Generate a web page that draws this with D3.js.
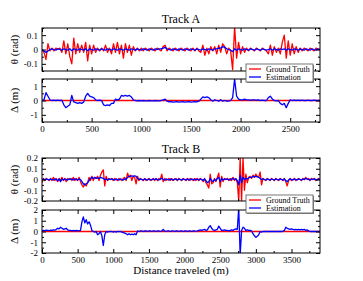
<!DOCTYPE html>
<html>
<head>
<meta charset="utf-8">
<script src="https://cdn.jsdelivr.net/npm/d3@7"></script>
<style>
  body { margin: 0; background: #fff; }
  svg { display: block; }
</style>
</head>
<body>
<script>
// sample spacing of the series below (m)
var step = 20;

// Track A, heading error (rad), one value every 20 m from 0 to 2800
var thetaTruthA = [
  0, -0.02, -0.07, 0.04, -0.01, 0.01, -0.01, 0.01, 0, 0.01,
  -0.02, 0.06, -0.03, 0.04, -0.05, -0.1, 0.08, -0.03, 0.04, -0.02,
  0.03, -0.02, 0.05, -0.08, 0.03, -0.03, 0.03, -0.02, 0.01, -0.01,
  0.01, -0.01, 0.03, -0.02, 0.01, -0.03, 0.04, -0.02, 0.05, -0.03,
  0.03, -0.06, 0.04, -0.02, 0.03, -0.04, 0.02, -0.01, 0.01, -0.01,
  0.01, -0.01, 0.01, 0, -0.01, 0.01, 0, -0.01, 0.01, 0,
  -0.01, 0.02, 0.03, -0.01, 0.01, 0, -0.01, 0.01, 0, -0.01,
  0.01, 0, -0.01, 0.01, 0, -0.01, 0.01, -0.01, 0.01, -0.01,
  -0.02, 0.03, -0.04, 0.01, -0.03, 0.02, -0.01, 0.02, -0.03, 0.03,
  -0.02, 0.04, 0.02, -0.03, 0.01, -0.01, -0.14, 0.16, -0.06, 0.05,
  -0.03, 0.02, -0.02, 0.01, -0.01, 0.01, 0, -0.01, 0.01, 0,
  -0.01, 0.01, 0, -0.01, -0.03, 0.03, -0.04, 0.02, -0.02, 0.01,
  -0.03, 0.05, 0.1, -0.06, 0.06, -0.04, 0.04, -0.03, 0.02, -0.02,
  0.01, -0.01, 0.01, 0, -0.01, 0.01, 0, -0.01, 0.01, 0,
  0
];
var thetaEstA = [
  0, -0.01, -0.02, -0.01, 0, 0.005, 0, -0.005, 0.005, 0,
  -0.005, 0.005, 0, -0.005, 0.005, -0.01, 0.005, 0, -0.005, 0.005,
  0, -0.005, 0.005, -0.01, 0.005, 0, -0.005, 0.005, 0, -0.005,
  0.005, 0, -0.005, 0.005, 0, -0.005, 0.005, 0, -0.005, 0.005,
  0, -0.005, 0.005, 0, -0.005, 0.005, 0, -0.005, 0.005, 0,
  -0.005, 0.005, 0, -0.005, 0.005, 0, -0.005, 0.005, 0, 0.005,
  0.005, 0.01, 0.015, 0.005, 0, -0.005, 0.005, 0, -0.005, 0.005,
  0, -0.005, 0.005, 0, -0.005, 0.005, 0, -0.005, 0.005, 0,
  -0.005, 0.005, 0, -0.005, 0.005, 0, -0.005, 0.005, 0.005, 0.01,
  0.01, 0.02, 0.015, 0.005, 0, -0.005, -0.015, 0.005, -0.005, 0.005,
  0, -0.005, 0.005, 0, -0.005, 0.005, 0, -0.005, 0.005, 0,
  -0.005, 0.005, 0, -0.005, 0, 0.005, -0.005, 0.005, 0, -0.005,
  0.005, 0, 0.005, -0.005, 0.005, 0, -0.005, 0.005, 0, -0.005,
  0.005, 0, -0.005, 0.005, 0, -0.005, 0.005, 0, -0.005, 0.005,
  0
];
// Track A, lateral offset (m)
var deltaTruthA = [0, 0]; // spacing 2800 m, flat
var deltaEstA = [
  0, 0.05, 0.55, 0.3, 0.05, 0, 0.02, 0, 0.02, 0,
  0.02, -0.3, -0.5, -0.4, -0.3, 0.35, -0.1, -0.15, -0.2, -0.15,
  -0.2, -0.1, 0.3, 0.5, 0.3, 0.25, 0.2, 0.05, 0, 0.02,
  0, -0.3, -0.35, -0.3, -0.35, -0.2, -0.2, 0.1, 0.05, 0.1,
  0.35, 0.3, 0.35, 0.3, 0.35, 0.25, 0.05, 0, -0.02, 0,
  -0.03, 0, -0.02, -0.03, 0, -0.02, -0.03, 0, -0.02, -0.03,
  0, 0.05, 0.1, -0.05, -0.1, -0.08, -0.12, -0.1, -0.08, -0.12,
  -0.1, -0.08, -0.12, -0.1, -0.08, -0.12, -0.1, -0.08, -0.1, -0.05,
  0.1, 0.25, 0.2, 0.25, 0.2, 0.05, -0.05, 0.05, 0, -0.05,
  0.05, -0.05, 0, -0.05, -0.05, 0, 0.2, 1.5, 0.3, 0.1,
  0.05, 0.05, 0.1, 0.05, 0.05, 0.02, 0.05, 0.05, 0.02, 0.05,
  0, 0.02, 0, 0, 0.2, 0.3, 0.1, 0, -0.02, 0,
  -0.2, -0.3, -0.2, -0.5, -0.2, 0.05, 0, 0.02, 0, 0.02,
  0, 0.02, 0, 0, 0.02, 0, 0, 0.02, 0, 0,
  0
];

// Track B, one value every 20 m from 0 to 3900
var thetaTruthB = [
  -0.03, 0.01, -0.01, 0.01, 0, -0.01, 0.01, -0.01, 0.02, -0.01,
  0.01, -0.02, 0.01, -0.01, 0.02, -0.01, 0.01, -0.02, 0.01, 0,
  0.01, -0.01, 0.02, -0.01, 0.01, -0.01, 0.02, -0.02, -0.05, -0.07,
  -0.04, -0.06, -0.03, 0.02, -0.01, 0.03, -0.01, 0.02, 0.01, 0.03,
  -0.01, 0.04, 0.07, 0.09, -0.06, 0.03, -0.01, 0.01, 0, 0.01,
  -0.01, 0.01, 0, -0.01, 0.01, 0, -0.01, 0.01, 0.02, -0.01,
  0.06, 0.02, 0.04, -0.01, 0.03, 0.02, -0.04, 0.03, -0.01, 0.01,
  0, -0.01, 0.01, -0.01, 0, 0.01, -0.01, 0, 0.01, -0.01,
  0.01, -0.01, 0.01, 0, 0.05, -0.02, 0.01, -0.01, 0, 0.01,
  -0.01, 0.01, -0.01, 0, 0.01, -0.01, 0.01, 0, -0.01, 0.01,
  0, -0.01, 0.01, -0.01, 0.01, 0, -0.01, 0.01, -0.01, 0.01,
  -0.01, 0.01, 0, -0.02, 0.01, -0.03, -0.05, -0.08, 0.05, -0.04,
  -0.03, 0.01, -0.02, 0.02, 0.06, -0.07, 0.03, -0.02, 0.01, 0,
  0.01, -0.01, 0.01, -0.01, 0.02, -0.01, 0.01, -0.03, -0.2, 0.2,
  -0.2, 0.2, -0.1, 0.05, -0.03, 0.02, 0.03, 0.01, 0.04, 0.02,
  0.05, 0.03, 0.02, 0.07, -0.05, 0.01, 0, -0.01, 0.01, 0,
  -0.01, 0.01, 0, -0.01, 0.01, 0, -0.01, 0.01, 0, -0.01,
  0.01, -0.02, -0.06, -0.01, 0.01, -0.01, 0, 0.01, -0.01, 0,
  0.01, 0, -0.01, 0.01, 0, 0.02, 0, 0.01, -0.01, 0.01,
  0, 0.01, -0.01, 0, 0.01, 0
];
var thetaEstB = [
  0, 0.005, -0.005, 0.005, 0, -0.005, 0.005, 0, -0.005, 0.005,
  0, -0.01, 0.005, -0.02, 0.005, -0.005, 0.005, 0, -0.005, 0.005,
  0, 0.005, -0.005, 0.005, 0, -0.005, 0.005, 0, -0.02, -0.04,
  -0.05, -0.04, -0.03, -0.01, 0.01, 0.02, 0.01, 0.02, 0.01, 0.015,
  0.01, 0.02, 0.015, 0.01, 0, 0.005, -0.005, 0.005, 0, 0.005,
  0, -0.005, 0.005, 0, -0.005, 0.005, 0, -0.005, 0.005, 0,
  0.02, 0.03, 0.03, 0.035, 0.03, 0.035, 0.03, 0.01, 0, 0.005,
  0, -0.005, 0.005, 0, -0.005, 0.005, 0, -0.005, 0.005, 0,
  0.005, 0, -0.005, 0.005, 0.01, 0, -0.005, 0.005, 0, -0.005,
  0.005, 0, -0.005, 0.005, 0, -0.005, 0.005, 0, -0.005, 0.005,
  0, -0.005, 0.005, 0, -0.005, 0.005, 0, -0.005, 0.005, 0,
  -0.005, 0.005, 0, -0.01, 0.005, -0.01, -0.03, -0.02, 0.01, -0.01,
  -0.02, 0, -0.01, 0.01, 0.02, -0.02, 0.01, -0.005, 0.005, 0,
  0.005, 0, -0.005, 0.005, 0.01, 0, 0.005, -0.01, -0.05, 0.04,
  -0.03, 0.02, 0, 0.01, 0.005, 0.015, 0.02, 0.02, 0.03, 0.025,
  0.03, 0.025, 0.02, 0.01, 0, 0.005, 0, -0.005, 0.005, 0,
  -0.005, 0.005, 0, -0.005, 0.005, 0, -0.005, 0.005, 0, -0.005,
  0.005, -0.01, -0.02, -0.005, 0.005, 0, -0.005, 0.005, 0, -0.005,
  0.005, 0, -0.005, 0.005, 0, 0.01, 0.005, 0, -0.005, 0.005,
  0, 0.005, 0, -0.005, 0.005, 0
];
var deltaTruthB = [0, 0]; // spacing 3900 m, flat
var deltaEstB = [
  0.05, 0.1, 0.08, 0.12, 0.1, 0.08, 0.12, 0.1, 0.15, 0.12,
  0.2, 0.3, 0.25, 0.4, 0.3, 0.2, 0.25, 0.3, 0.15, 0.1,
  0.1, 0.05, 0.1, 0.05, 0.1, 0.08, 0.05, 0.1, 0.9, 1.35,
  0.8, 1.1, 0.7, 0.9, 0.6, 0.1, 0, -0.05, 0, -0.3,
  -0.2, 0, -0.4, -1.3, -0.3, 0, -0.05, 0, -0.02, 0,
  -0.05, 0, -0.05, 0, -0.02, 0, -0.05, -0.1, -0.15, -0.2,
  -0.3, -0.2, -0.3, -0.25, -0.3, -0.2, -0.3, 0.05, 0, 0.05,
  0.05, 0, 0.05, 0.05, 0, 0.05, 0.05, 0, 0.05, 0.05,
  0, 0.05, 0.05, 0, 0.05, 0.2, 0.05, 0, 0.05, 0.05,
  0, 0.05, 0.05, 0, 0.05, 0.05, 0, 0.05, 0.05, 0,
  0.05, 0.05, 0, 0.05, 0.05, 0, 0.05, 0.05, 0, 0.05,
  0.1, 0.15, 0.1, 0.15, 0.2, 0.1, 0.15, 0.4, 0.55, 0.3,
  0.15, 0.1, 0.15, 0.2, 0.5, 0.3, 0.1, 0.1, 0.15, 0.1,
  0.1, 0.05, 0.1, 0.15, 0.1, 0.2, 0.25, 0.2, 2.2, -2.2,
  0.1, 0.4, 0.3, 0.1, 0.15, 0.1, 0.1, 0.05, -0.2, -0.4,
  -0.55, -0.45, -0.3, 0, -0.05, 0, 0, 0.02, 0, 0,
  0, 0.02, 0, 0, 0.02, 0, 0, 0.02, 0, 0.02,
  0.1, 0.4, 0.3, 0.25, 0.2, 0.25, 0.2, 0.15, 0.2, 0.15,
  0.2, 0.15, 0.2, 0.15, 0.2, 0.1, 0.15, 0.05, 0, 0,
  0, 0.02, 0, 0, 0.02, 0
];

// tick labels
var xTicksA = [0, 500, 1000, 1500, 2000, 2500];
var xMinorA = [250, 750, 1250, 1750, 2250, 2750];
var xTicksB = [0, 500, 1000, 1500, 2000, 2500, 3000, 3500];
var xMinorB = [250, 750, 1250, 1750, 2250, 2750, 3250, 3750];
var thetaTicksA = [-0.1, 0, 0.1];
var thetaMinorA = [-0.15, -0.05, 0.05, 0.15];
var deltaTicksA = [-1, 0, 1];
var deltaMinorA = [-1.5, -0.5, 0.5, 1.5];
var thetaTicksB = [-0.2, -0.1, 0, 0.1, 0.2];
var thetaMinorB = [-0.15, -0.05, 0.05, 0.15];
var deltaTicksB = [-2, -1, 0, 1, 2];
var deltaMinorB = [-1.5, -0.5, 0.5, 1.5];

var legendNames = ["Ground Truth", "Estimation"];
var colors = ["#ff0000", "#0000ff"];

var W = 363, H = 281,
  left = 42, right = 320,
  serif = "'Liberation Serif', 'Times New Roman', Times, 'DejaVu Serif', serif";

var svg = d3.select("body").append("svg")
  .attr("width", W)
  .attr("height", H)
  .attr("font-family", serif);

var clipId = 0;

function drawPanel(p) {
  var x = d3.scaleLinear().domain(p.xDomain).range([left, right]);
  var y = d3.scaleLinear().domain(p.yDomain).range([p.bottom, p.top]);

  clipId++;
  svg.append("clipPath").attr("id", "clip" + clipId)
    .append("rect")
    .attr("x", left).attr("y", p.top)
    .attr("width", right - left).attr("height", p.bottom - p.top);

  var lines = svg.append("g").attr("clip-path", "url(#clip" + clipId + ")");
  p.series.forEach(function(s) {
    var line = d3.line()
      .x(function(d, i) { return x(i * s.step); })
      .y(function(d) { return y(d); });
    lines.append("path")
      .datum(s.values)
      .attr("d", line)
      .attr("fill", "none")
      .attr("stroke", s.color)
      .attr("stroke-width", 1.3)
      .attr("stroke-linejoin", "round");
  });

  // ticks inside on all four sides, like xmgrace
  var fmt = function(d) { return String(d); };
  var axes = [
    [d3.axisBottom(x).tickValues(p.xTicks), "translate(0," + p.bottom + ")", p.showX ? fmt : ""],
    [d3.axisTop(x).tickValues(p.xTicks), "translate(0," + p.top + ")", ""],
    [d3.axisLeft(y).tickValues(p.yTicks), "translate(" + left + ",0)", fmt],
    [d3.axisRight(y).tickValues(p.yTicks), "translate(" + right + ",0)", ""]
  ];
  axes.forEach(function(a) {
    var g = svg.append("g")
      .attr("transform", a[1])
      .call(a[0].tickSize(-4).tickPadding(4).tickFormat(a[2]));
    g.attr("font-family", serif).attr("font-size", 9);
    g.select(".domain").remove();
    g.selectAll("text").attr("fill", "#000");
  });
  var minors = [
    [d3.axisBottom(x).tickValues(p.xMinor), "translate(0," + p.bottom + ")"],
    [d3.axisTop(x).tickValues(p.xMinor), "translate(0," + p.top + ")"],
    [d3.axisLeft(y).tickValues(p.yMinor), "translate(" + left + ",0)"],
    [d3.axisRight(y).tickValues(p.yMinor), "translate(" + right + ",0)"]
  ];
  minors.forEach(function(a) {
    var g = svg.append("g")
      .attr("transform", a[1])
      .call(a[0].tickSize(-2).tickFormat(""));
    g.select(".domain").remove();
  });

  svg.append("rect")
    .attr("x", left).attr("y", p.top)
    .attr("width", right - left).attr("height", p.bottom - p.top)
    .attr("fill", "none")
    .attr("stroke", "#000")
    .attr("stroke-width", 1);

  svg.append("text")
    .attr("transform", "translate(18," + ((p.top + p.bottom) / 2) + ") rotate(-90)")
    .attr("text-anchor", "middle")
    .attr("font-size", 11)
    .text(p.label);
}

function drawLegend(lx, ly) {
  var g = svg.append("g").attr("transform", "translate(" + lx + "," + ly + ")");
  g.append("rect")
    .attr("x", 1).attr("y", 1).attr("width", 67).attr("height", 18)
    .attr("fill", "#888");
  g.append("rect")
    .attr("width", 67).attr("height", 18)
    .attr("fill", "#fff")
    .attr("stroke", "#555")
    .attr("stroke-width", 0.8);
  legendNames.forEach(function(name, i) {
    g.append("line")
      .attr("x1", 3).attr("x2", 15)
      .attr("y1", 5 + i * 8).attr("y2", 5 + i * 8)
      .attr("stroke", colors[i])
      .attr("stroke-width", 1.3);
    g.append("text")
      .attr("x", 20).attr("y", 8 + i * 8)
      .attr("font-size", 8)
      .text(name);
  });
}

function title(t, yy) {
  svg.append("text")
    .attr("x", (left + right) / 2).attr("y", yy)
    .attr("text-anchor", "middle")
    .attr("font-size", 12)
    .text(t);
}

// Track A
title("Track A", 22.5);
drawPanel({
  top: 28, bottom: 71, xDomain: [0, 2800], yDomain: [-0.15, 0.15],
  xTicks: xTicksA, xMinor: xMinorA, yTicks: thetaTicksA, yMinor: thetaMinorA,
  showX: false, label: "θ (rad)",
  series: [
    {values: thetaTruthA, step: step, color: colors[0]},
    {values: thetaEstA, step: step, color: colors[1]}
  ]
});
drawPanel({
  top: 79, bottom: 122, xDomain: [0, 2800], yDomain: [-1.5, 1.5],
  xTicks: xTicksA, xMinor: xMinorA, yTicks: deltaTicksA, yMinor: deltaMinorA,
  showX: true, label: "Δ (m)",
  series: [
    {values: deltaTruthA, step: 2800, color: colors[0]},
    {values: deltaEstA, step: step, color: colors[1]}
  ]
});
drawLegend(246, 64);

// Track B
title("Track B", 152.5);
drawPanel({
  top: 158, bottom: 201, xDomain: [0, 3900], yDomain: [-0.2, 0.2],
  xTicks: xTicksB, xMinor: xMinorB, yTicks: thetaTicksB, yMinor: thetaMinorB,
  showX: false, label: "θ (rad)",
  series: [
    {values: thetaTruthB, step: step, color: colors[0]},
    {values: thetaEstB, step: step, color: colors[1]}
  ]
});
drawPanel({
  top: 210, bottom: 253, xDomain: [0, 3900], yDomain: [-2, 2],
  xTicks: xTicksB, xMinor: xMinorB, yTicks: deltaTicksB, yMinor: deltaMinorB,
  showX: true, label: "Δ (m)",
  series: [
    {values: deltaTruthB, step: 3900, color: colors[0]},
    {values: deltaEstB, step: step, color: colors[1]}
  ]
});
drawLegend(246, 195);

svg.append("text")
  .attr("x", (left + right) / 2).attr("y", 274)
  .attr("text-anchor", "middle")
  .attr("font-size", 11)
  .text("Distance traveled (m)");
</script>
</body>
</html>
